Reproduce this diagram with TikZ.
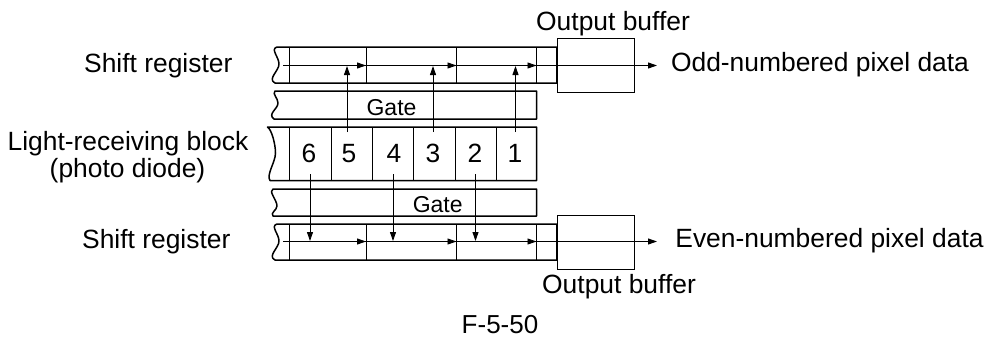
\documentclass[tikz,border=0pt]{standalone}
\usepackage{fontspec}
\setmainfont{Liberation Sans}
\usetikzlibrary{arrows.meta}
\tikzset{
  x=1pt,y=-1pt,
  heavy/.style={line width=1.5pt,line join=round,black},
  thin line/.style={line width=0.9pt,black},
  flow/.style={line width=0.9pt,black,-{Triangle[length=9pt,width=6pt]}},
  label/.style={font=\fontsize{26.4}{30}\selectfont,inner sep=0pt,text=black,anchor=base},
  small label/.style={label,font=\fontsize{23}{26}\selectfont},
  buffer/.style={draw,line width=1pt,black,minimum width=77pt,inner sep=0pt,anchor=north west},
}
\begin{document}
\begin{tikzpicture}
\useasboundingbox (0,0) rectangle (988,338);
% named points
\coordinate (r1a) at (289.5,47); \coordinate (r1ab) at (289.5,83);
\coordinate (r1b) at (366,47); \coordinate (r1bb) at (366,83);
\coordinate (r1c) at (456.5,47); \coordinate (r1cb) at (456.5,83);
\coordinate (r1d) at (536.5,47); \coordinate (r1db) at (536.5,83);
\coordinate (r2a) at (289.5,224); \coordinate (r2ab) at (289.5,260);
\coordinate (r2b) at (366,224); \coordinate (r2bb) at (366,260);
\coordinate (r2c) at (456.5,224); \coordinate (r2cb) at (456.5,260);
\coordinate (r2d) at (536.5,224); \coordinate (r2db) at (536.5,260);
% buffers
\node[buffer,minimum height=54pt] (buf1) at (557,37.5) {};
\node[buffer,minimum height=54pt] (buf2) at (557,215) {};
% registers
\draw[heavy] (557,47) -- (277,47) .. controls (270,49) and (279,57) .. (279,64) .. controls (279,71) and (267,79) .. (275,83) -- (557,83);
\draw[heavy] (557,224) -- (277,224) .. controls (270,226) and (279,234) .. (279,241) .. controls (279,248) and (267,256) .. (275,260) -- (557,260);
\draw[heavy] (557,47) -- (557,83) (557,224) -- (557,260);
\foreach \n in {1,2} \foreach \s in {a,b,c,d}
  \draw[thin line] (r\n\s) -- (r\n\s b);
% gates
\draw[heavy] (275,91) .. controls (272,94) and (278,98) .. (278,103) .. controls (278,109) and (267,114) .. (274,119) -- (536.5,119) -- (536.5,91) -- cycle;
\draw[heavy] (273,189) .. controls (268,191) and (277,200) .. (277,206) .. controls (277,210) and (270,213) .. (273,216) -- (536.5,216) -- (536.5,189) -- cycle;
\node[small label] (gate1) at (391.5,115.7) {Gate};
\node[small label] (gate2) at (437.7,212) {Gate};
% light-receiving block
\draw[heavy] (536.5,127) -- (267.5,127) .. controls (272,130) and (275.5,145) .. (275.5,153) .. controls (275.5,162) and (266,175) .. (270,180.5) -- (536.5,180.5) -- cycle;
\foreach \x/\d/\p in {289.5/6/309,331/5/349,372/4/394,413.5/3/433,455/2/475,496/1/515}{
  \draw[thin line] (\x,127) -- (\x,180.5);
  \node[label] (cell\d) at (\p,162) {\d};
}
% transfer arrows
\coordinate (t5) at (347,132); \coordinate (h5) at (347,66);
\coordinate (t3) at (433,132); \coordinate (h3) at (433,66);
\coordinate (t1) at (515.5,132); \coordinate (h1) at (515.5,66);
\coordinate (t6) at (310,174); \coordinate (h6) at (310,241);
\coordinate (t4) at (393,174); \coordinate (h4) at (393,241);
\coordinate (t2) at (475.5,174); \coordinate (h2) at (475.5,241);
\foreach \k in {1,...,6} \draw[flow] (t\k) -- (h\k);
% shift lines
\coordinate (s1) at (283,65.5); \coordinate (e1) at (657,65.5);
\coordinate (s2) at (283,241.5); \coordinate (e2) at (657,241.5);
\foreach \n in {1,2}{
  \draw[flow] (s\n) -- (e\n);
}
\path (r1b |- s1) coordinate (m1b) (r1c |- s1) coordinate (m1c) (r1d |- s1) coordinate (m1d)
      (r2b |- s2) coordinate (m2b) (r2c |- s2) coordinate (m2c) (r2d |- s2) coordinate (m2d);
\foreach \n in {1,2}\foreach \s in {b,c,d}
  \draw[flow] ([xshift=-10pt]m\n\s) -- (m\n\s);
% labels
\node[label] (l1) at (158.3,72.7) {Shift register};
\node[label] (l2) at (128,150.7) {Light-receiving block};
\node[label] (l3) at (127.5,177) {(photo diode)};
\node[label] (l4) at (156.3,248.3) {Shift register};
\node[label] (l5) at (613,30.7) {Output buffer};
\node[label] (l6) at (619,293) {Output buffer};
\node[label] (l7) at (820,71) {Odd-numbered pixel data};
\node[label] (l8) at (829.5,247.5) {Even-numbered pixel data};
\node[label,font=\fontsize{26}{30}\selectfont] (l9) at (500,333.3) {F-5-50};
\end{tikzpicture}
\end{document}
